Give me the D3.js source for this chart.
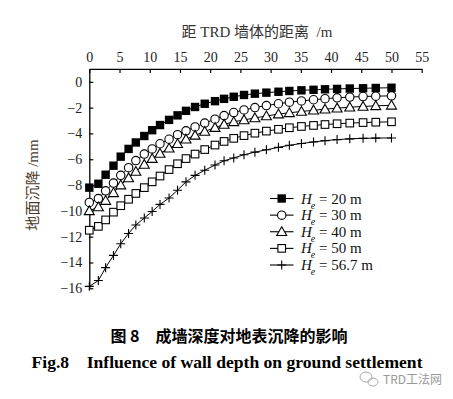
<!DOCTYPE html>
<html><head><meta charset="utf-8">
<script src="https://cdn.jsdelivr.net/npm/d3@7"></script>
<style>body{margin:0;background:#fff}svg{display:block}text{white-space:pre}</style>
</head><body>
<script>
// ---- data ----
const xTicks = [0,5,10,15,20,25,30,35,40,45,50,55];
const yTicks = [0,-2,-4,-6,-8,-10,-12,-14,-16];
const distance = [0,1.5,2.7,4.0,5.2,6.5,7.7,9.1,10.4,11.7,13.2,14.6,16.0,17.5,19.1,20.8,22.3,23.9,25.6,27.4,29.3,31.3,33.1,35.1,37.1,39.0,41.0,43.1,45.3,47.4,50.0];
const he20 = [-8.2,-7.9,-7.2,-6.5,-5.8,-5.2,-4.7,-4.2,-3.75,-3.35,-2.95,-2.6,-2.25,-1.95,-1.7,-1.5,-1.32,-1.16,-1.02,-0.92,-0.84,-0.77,-0.71,-0.66,-0.62,-0.58,-0.55,-0.52,-0.5,-0.48,-0.46];
const he30 = [-9.35,-9.05,-8.45,-7.85,-7.25,-6.65,-6.1,-5.6,-5.2,-4.8,-4.45,-4.1,-3.8,-3.5,-3.2,-2.9,-2.62,-2.38,-2.18,-2.0,-1.84,-1.7,-1.58,-1.48,-1.39,-1.31,-1.24,-1.18,-1.14,-1.11,-1.09];
const he40 = [-10.0,-9.7,-9.2,-8.6,-8.0,-7.45,-6.95,-6.4,-5.95,-5.55,-5.15,-4.8,-4.45,-4.15,-3.85,-3.55,-3.3,-3.1,-2.95,-2.8,-2.65,-2.5,-2.4,-2.3,-2.2,-2.12,-2.04,-1.97,-1.91,-1.86,-1.82];
const he50 = [-11.5,-11.2,-10.7,-10.1,-9.6,-9.1,-8.65,-8.2,-7.75,-7.3,-6.8,-6.35,-5.95,-5.6,-5.25,-4.9,-4.62,-4.38,-4.17,-3.98,-3.82,-3.68,-3.56,-3.46,-3.38,-3.31,-3.25,-3.2,-3.16,-3.13,-3.1];
const he567 = [-15.85,-15.4,-14.4,-13.45,-12.55,-11.75,-11.1,-10.55,-10.05,-9.5,-9.0,-8.4,-7.75,-7.25,-6.85,-6.45,-6.12,-5.9,-5.65,-5.45,-5.27,-5.08,-4.92,-4.78,-4.66,-4.56,-4.48,-4.42,-4.38,-4.36,-4.35];
const seriesNames = ["20 m","30 m","40 m","50 m","56.7 m"];
const seriesMarkers = ["filledSquare","circle","triangle","square","plus"];
const xTitle = "距 TRD 墙体的距离  /m";
const yTitle = "地面沉降 /mm";
const captionCn = "图 8　成墙深度对地表沉降的影响";
const captionEn = "Fig.8　Influence of wall depth on ground settlement";
const watermark = "TRD工法网";

const seriesValues = [he20, he30, he40, he50, he567];

const W = 453, H = 399;
const svg = d3.select("body").append("svg").attr("width", W).attr("height", H);
const serif = "'Liberation Serif','Times New Roman','Noto Sans CJK SC',serif";
const cjk = "'Liberation Serif','Noto Sans CJK SC',serif";

const x = d3.scaleLinear().domain([0,55]).range([89.3,421.7]);
const y = d3.scaleLinear().domain([-16,1]).range([288.3,68.9]);

// axes
const xAxis = d3.axisTop(x).tickValues(xTicks).tickSize(-4).tickSizeOuter(0).tickPadding(7).tickFormat(d3.format("d"));
const gx = svg.append("g").attr("transform", `translate(0,${y(1)})`).call(xAxis);
const yAxis = d3.axisLeft(y).tickValues(yTicks).tickSize(-4).tickSizeOuter(0).tickPadding(7).tickFormat(d3.format("d"));
const gy = svg.append("g").attr("transform", `translate(${x(0)},0)`).call(yAxis);
[gx, gy].forEach(g => {
  g.selectAll("path.domain").attr("stroke","#000").attr("stroke-width",1.3);
  g.selectAll(".tick line").attr("stroke","#000").attr("stroke-width",1.2);
  g.selectAll(".tick text").attr("fill","#222").style("font-family",serif).style("font-size","14px");
});

// titles
svg.append("text").attr("x",257).attr("y",37).attr("text-anchor","middle")
  .style("font-family",cjk).style("font-size","15px").attr("fill","#333").text(xTitle);
svg.append("text").attr("transform","translate(38,185) rotate(-90)").attr("text-anchor","middle")
  .style("font-family",cjk).style("font-size","15px").attr("fill","#4a3a2a").text(yTitle);

// markers
function drawMarker(g, type, cx, cy) {
  if (type === "filledSquare") {
    g.append("rect").attr("x",cx-4.2).attr("y",cy-4.2).attr("width",8.4).attr("height",8.4).attr("fill","#000");
  } else if (type === "square") {
    g.append("rect").attr("x",cx-3.8).attr("y",cy-3.8).attr("width",7.6).attr("height",7.6).attr("fill","#fff").attr("stroke","#000").attr("stroke-width",1.1);
  } else if (type === "circle") {
    g.append("circle").attr("cx",cx).attr("cy",cy).attr("r",4.2).attr("fill","#fff").attr("stroke","#000").attr("stroke-width",1.1);
  } else if (type === "triangle") {
    g.append("path").attr("d",`M${cx},${cy-5}L${cx+5},${cy+3.8}L${cx-5},${cy+3.8}Z`).attr("fill","#fff").attr("stroke","#000").attr("stroke-width",1.1);
  } else if (type === "plus") {
    g.append("path").attr("d",`M${cx-4.5},${cy}H${cx+4.5}M${cx},${cy-4.5}V${cy+4.5}`).attr("stroke","#000").attr("stroke-width",1.1);
  }
}

const line = d3.line().x(d => x(d[0])).y(d => y(d[1]));
seriesValues.forEach((vals, i) => {
  const pts = distance.map((d, j) => [d, vals[j]]);
  const g = svg.append("g");
  g.append("path").attr("d", line(pts)).attr("fill","none").attr("stroke","#000").attr("stroke-width",1);
  pts.forEach(p => drawMarker(g, seriesMarkers[i], x(p[0]), y(p[1])));
});

// legend
const legY = d3.scalePoint().domain(seriesNames).range([198.5,265]);
seriesNames.forEach((name, i) => {
  const ly = legY(name);
  const g = svg.append("g");
  g.append("line").attr("x1",270).attr("x2",293.5).attr("y1",ly).attr("y2",ly).attr("stroke","#000").attr("stroke-width",1.1);
  drawMarker(g, seriesMarkers[i], 281.7, ly);
  const t = g.append("text").attr("x",301).attr("y",ly+5).style("font-family",serif).style("font-size","15px").attr("fill","#111");
  t.append("tspan").style("font-style","italic").text("H");
  t.append("tspan").style("font-style","italic").style("font-size","10px").attr("dx",-1).attr("dy",5).text("e");
  t.append("tspan").attr("dy",-5).text(" = " + name);
});

// captions
svg.append("text").attr("x",229).attr("y",342).attr("text-anchor","middle")
  .style("font-family","'Noto Sans CJK SC',sans-serif").style("font-weight","bold").style("font-size","16px").attr("fill","#000").text(captionCn);
svg.append("text").attr("x",227).attr("y",368).attr("text-anchor","middle")
  .attr("textLength",391).attr("lengthAdjust","spacingAndGlyphs")
  .style("font-family",serif).style("font-weight","bold").style("font-size","17px").attr("fill","#000").text(captionEn);

// watermark
const wm = svg.append("g").attr("fill","none").attr("stroke","#aaa").attr("stroke-width",1);
wm.append("ellipse").attr("cx",366).attr("cy",377).attr("rx",6).attr("ry",5);
wm.append("ellipse").attr("cx",373).attr("cy",382).attr("rx",5).attr("ry",4);
svg.append("text").attr("x",383).attr("y",384).style("font-family","'Noto Sans CJK SC',sans-serif")
  .style("font-size","12px").attr("fill","#999").text(watermark);
</script>
</body></html>
